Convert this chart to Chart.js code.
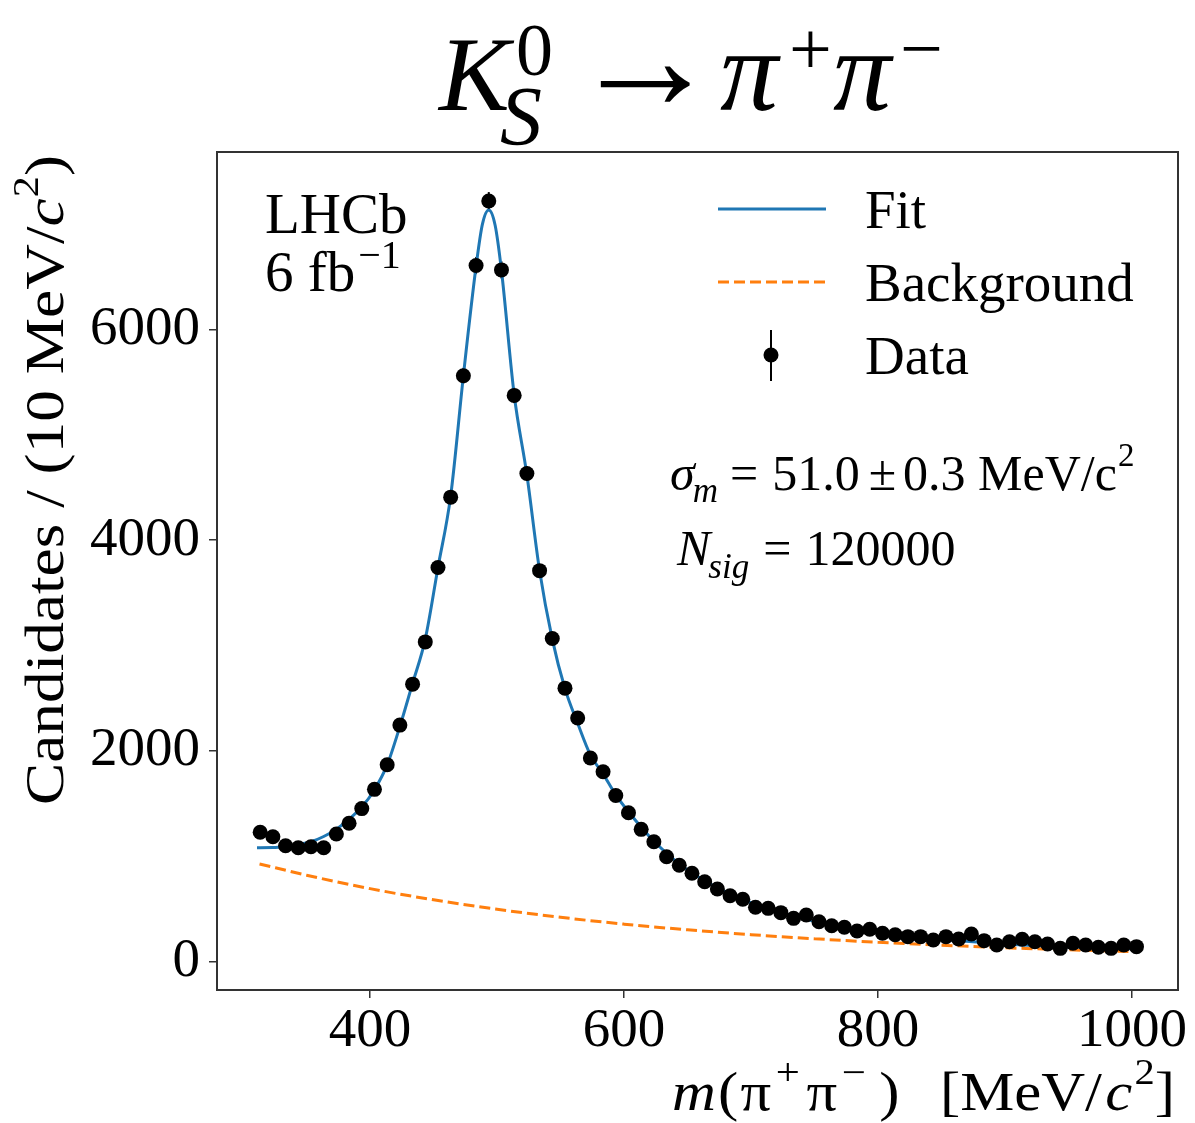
<!DOCTYPE html>
<html>
<head>
<meta charset="utf-8">
<title>K0S to pi+ pi- mass fit</title>
<script src="https://cdn.jsdelivr.net/npm/chart.js@4.4.1/dist/chart.umd.min.js"></script>
<style>
  html, body { margin: 0; padding: 0; background: #fff; }
  canvas { display: block; }
</style>
</head>
<body>
<canvas id="massChart" width="1195" height="1123"></canvas>
<script>
// histogram bin centres, m(pi+ pi-) [MeV/c^2]
const massBins = [
  313.5, 323.5, 333.5, 343.5, 353.5, 363.5, 373.5, 383.5, 393.5, 403.5,
  413.5, 423.5, 433.5, 443.5, 453.5, 463.5, 473.5, 483.5, 493.5, 503.5,
  513.5, 523.5, 533.5, 543.5, 553.5, 563.5, 573.5, 583.5, 593.5, 603.5,
  613.5, 623.5, 633.5, 643.5, 653.5, 663.5, 673.5, 683.5, 693.5, 703.5,
  713.5, 723.5, 733.5, 743.5, 753.5, 763.5, 773.5, 783.5, 793.5, 803.5,
  813.5, 823.5, 833.5, 843.5, 853.5, 863.5, 873.5, 883.5, 893.5, 903.5,
  913.5, 923.5, 933.5, 943.5, 953.5, 963.5, 973.5, 983.5, 993.5, 1003.5
];
// candidates per 10 MeV bin
const candidates = [
  1225, 1183, 1098, 1079, 1088, 1079, 1209, 1311, 1450, 1633,
  1867, 2243, 2632, 3033, 3740, 4408, 5561, 6607, 7220, 6566,
  5374, 4632, 3710, 3065, 2594, 2310, 1931, 1800, 1575, 1411,
  1253, 1136, 993, 912, 836, 756, 687, 623, 589, 513,
  503, 462, 408, 440, 376, 338, 323, 288, 304, 266,
  252, 234, 234, 202, 234, 212, 259, 196, 155, 186,
  209, 186, 164, 123, 171, 155, 133, 123, 155, 139
];

// total fit curve
const fitMass = [
  311, 323.5, 333.5, 343.5, 353.5, 363.5, 373.5, 383.5, 393.5, 403.5,
  413.5, 423.5, 433.5, 443.5, 453.5, 463.5, 473.5, 483.5, 488.5, 493.5,
  498.5, 503.5, 513.5, 523.5, 533.5, 543.5, 553.5, 563.5, 573.5, 583.5,
  593.5, 603.5, 623.5, 643.5, 663.5, 683.5, 703.5, 733.5, 763.5, 793.5,
  823.5, 853.5, 883.5, 913.5, 943.5, 973.5, 1003.5
];
const fitValues = [
  1079, 1080, 1090, 1108, 1135, 1185, 1255, 1350, 1465, 1630,
  1865, 2230, 2640, 3060, 3740, 4420, 5560, 6600, 7000, 7135,
  6990, 6560, 5380, 4620, 3710, 3060, 2590, 2260, 1960, 1780,
  1580, 1420, 1140, 925, 765, 640, 540, 430, 345, 285,
  240, 205, 178, 156, 140, 127, 120
];

// background component
const bkgMass = [313, 350, 400, 450, 500, 550, 600, 650, 700, 750, 800, 850, 900, 950, 1003.5];
const bkgValues = [924, 818, 690, 584, 494, 418, 353, 299, 253, 214, 181, 153, 129, 109, 92];

const xTicks = [400, 600, 800, 1000];
const yTicks = [0, 2000, 4000, 6000];

const SERIF = '"Liberation Serif", "Times New Roman", serif';
const BLUE = '#1f77b4';
const ORANGE = '#ff7f0e';

function font(size, italic) {
  return (italic ? 'italic ' : '') + size + 'px ' + SERIF;
}

// draws text pieces one after another, returns the x where the run ends
function drawRun(ctx, x, y, parts, measureOnly) {
  parts.forEach(p => {
    ctx.font = font(p.size, p.italic);
    if (!measureOnly) ctx.fillText(p.t, x, y + (p.dy || 0));
    x += ctx.measureText(p.t).width + (p.gap || 0);
  });
  return x;
}

// same, stretched horizontally to a given length (axis titles)
function drawStretched(ctx, x, y, parts, length) {
  const w = drawRun(ctx, 0, 0, parts, true);
  ctx.save();
  ctx.translate(x, y);
  ctx.scale(length / w, 1);
  drawRun(ctx, 0, 0, parts);
  ctx.restore();
}

const pairs = (xs, ys) => xs.map((v, i) => ({ x: v, y: ys[i] }));

// Poisson error bars on the data points
const errorBars = {
  id: 'errorBars',
  beforeDatasetsDraw(chart) {
    const { ctx, scales: { x, y } } = chart;
    ctx.save();
    ctx.strokeStyle = '#000';
    ctx.lineWidth = 2;
    massBins.forEach((m, i) => {
      const err = Math.sqrt(candidates[i]);
      const px = x.getPixelForValue(m);
      ctx.beginPath();
      ctx.moveTo(px, y.getPixelForValue(candidates[i] - err));
      ctx.lineTo(px, y.getPixelForValue(candidates[i] + err));
      ctx.stroke();
    });
    ctx.restore();
  }
};

// frame, titles, legend and fit results
const decorations = {
  id: 'decorations',
  afterDraw(chart) {
    const { ctx, chartArea: a } = chart;
    ctx.save();
    ctx.strokeStyle = '#333';
    ctx.lineWidth = 2;
    ctx.strokeRect(a.left, a.top, a.right - a.left, a.bottom - a.top);

    ctx.fillStyle = '#000';
    ctx.textBaseline = 'alphabetic';
    ctx.textAlign = 'left';

    // title: K0S -> pi+ pi-
    ctx.font = font(106, true);
    ctx.fillText('K', 439, 110);
    ctx.font = font(74, false);
    ctx.fillText('0', 516, 75);
    ctx.font = font(84, true);
    ctx.fillText('S', 500, 145);
    ctx.font = font(150, false);
    ctx.fillText('\u2192', 570, 109);
    ctx.font = font(116, true);
    ctx.fillText('\u03C0', 720, 110);
    ctx.font = font(76, false);
    ctx.fillText('+', 789, 74);
    ctx.font = font(116, true);
    ctx.fillText('\u03C0', 833, 110);
    ctx.font = font(76, false);
    ctx.fillText('\u2212', 900, 74);

    // experiment label
    ctx.font = font(57, false);
    ctx.fillText('LHCb', 265, 233);
    const fbEnd = drawRun(ctx, 265, 291, [{ t: '6 fb', size: 57, gap: 3 }]);
    drawRun(ctx, fbEnd, 268, [{ t: '\u22121', size: 40 }]);

    // legend
    ctx.lineWidth = 3;
    ctx.strokeStyle = BLUE;
    ctx.beginPath(); ctx.moveTo(718, 209); ctx.lineTo(826, 209); ctx.stroke();
    ctx.strokeStyle = ORANGE;
    ctx.setLineDash([11, 5]);
    ctx.beginPath(); ctx.moveTo(718, 282); ctx.lineTo(826, 282); ctx.stroke();
    ctx.setLineDash([]);
    ctx.strokeStyle = '#000';
    ctx.lineWidth = 2;
    ctx.beginPath(); ctx.moveTo(771, 330); ctx.lineTo(771, 381); ctx.stroke();
    ctx.beginPath(); ctx.arc(771, 355, 7.5, 0, Math.PI * 2); ctx.fill();
    ctx.font = font(55, false);
    ctx.fillText('Fit', 865, 228);
    ctx.fillText('Background', 865, 301);
    ctx.fillText('Data', 865, 374);

    // fit results
    let sx = drawRun(ctx, 670, 490, [{ t: '\u03C3', size: 50, italic: true }]);
    sx = drawRun(ctx, sx - 2, 502, [{ t: 'm', size: 35, italic: true, gap: 12 }]);
    sx = drawRun(ctx, sx, 490, [
      { t: '=', size: 50, gap: 14 },
      { t: '51.0', size: 50, gap: 9 },
      { t: '\u00B1', size: 50, gap: 7 },
      { t: '0.3 MeV/c', size: 50 }
    ]);
    drawRun(ctx, sx + 1, 466, [{ t: '2', size: 33 }]);
    let nx = drawRun(ctx, 677, 565, [{ t: 'N', size: 50, italic: true }]);
    nx = drawRun(ctx, nx - 2, 578, [{ t: 'sig', size: 35, italic: true, gap: 14 }]);
    drawRun(ctx, nx, 565, [{ t: '=', size: 50, gap: 14 }, { t: '120000', size: 50 }]);

    // x axis title, right aligned to the frame
    const xParts = [
      { t: 'm', size: 54, italic: true, gap: 2 },
      { t: '(', size: 54, gap: 2 },
      { t: '\u03C0', size: 54, gap: 4 },
      { t: '+', size: 38, dy: -25, gap: 6 },
      { t: '\u03C0', size: 54, gap: 4 },
      { t: '\u2212', size: 38, dy: -25, gap: 12 },
      { t: ')', size: 54, gap: 36 },
      { t: '[MeV/', size: 54, gap: 3 },
      { t: 'c', size: 54, italic: true, gap: 2 },
      { t: '2', size: 36, dy: -26 },
      { t: ']', size: 54 }
    ];
    drawStretched(ctx, 672, 1110, xParts, 503);

    // y axis title, ending at the top of the frame
    const yParts = [
      { t: 'Candidates / (10 MeV/', size: 54 },
      { t: 'c', size: 54, italic: true, gap: 1 },
      { t: '2', size: 36, dy: -25 },
      { t: ')', size: 54 }
    ];
    ctx.translate(63, 805);
    ctx.rotate(-Math.PI / 2);
    drawStretched(ctx, 0, 0, yParts, 650);
    ctx.restore();
  }
};

const tickFont = { family: SERIF, size: 55 };

new Chart(document.getElementById('massChart'), {
  type: 'scatter',
  data: {
    datasets: [
      {
        label: 'Data',
        data: pairs(massBins, candidates),
        pointRadius: 7.5,
        pointBackgroundColor: '#000',
        pointBorderWidth: 0,
        showLine: false,
        order: 0
      },
      {
        label: 'Fit',
        data: pairs(fitMass, fitValues),
        showLine: true,
        borderColor: BLUE,
        borderWidth: 3,
        pointRadius: 0,
        cubicInterpolationMode: 'monotone',
        order: 1
      },
      {
        label: 'Background',
        data: pairs(bkgMass, bkgValues),
        showLine: true,
        borderColor: ORANGE,
        borderWidth: 3,
        borderDash: [11, 5],
        pointRadius: 0,
        cubicInterpolationMode: 'monotone',
        order: 2
      }
    ]
  },
  options: {
    responsive: false,
    animation: false,
    layout: { padding: { top: 152, right: 17, left: 0, bottom: 0 } },
    plugins: { legend: { display: false }, tooltip: { enabled: false } },
    scales: {
      x: {
        type: 'linear',
        min: 279.5,
        max: 1036.2,
        afterBuildTicks: s => { s.ticks = xTicks.map(v => ({ value: v })); },
        afterFit: s => { s.height = 133; },
        ticks: { font: tickFont, color: '#000', padding: 1, maxRotation: 0, autoSkip: false,
                 callback: v => String(v) },
        grid: { drawOnChartArea: false, drawTicks: true, tickLength: 8, color: '#333', lineWidth: 1.5 },
        border: { display: false }
      },
      y: {
        type: 'linear',
        min: -272.5,
        max: 7685.5,
        afterBuildTicks: s => { s.ticks = yTicks.map(v => ({ value: v })); },
        afterFit: s => { s.width = 217; },
        ticks: { font: tickFont, color: '#000', padding: 9, autoSkip: false,
                 callback: v => String(v) },
        grid: { drawOnChartArea: false, drawTicks: true, tickLength: 8, color: '#333', lineWidth: 1.5 },
        border: { display: false }
      }
    }
  },
  plugins: [errorBars, decorations]
});
</script>
</body>
</html>
